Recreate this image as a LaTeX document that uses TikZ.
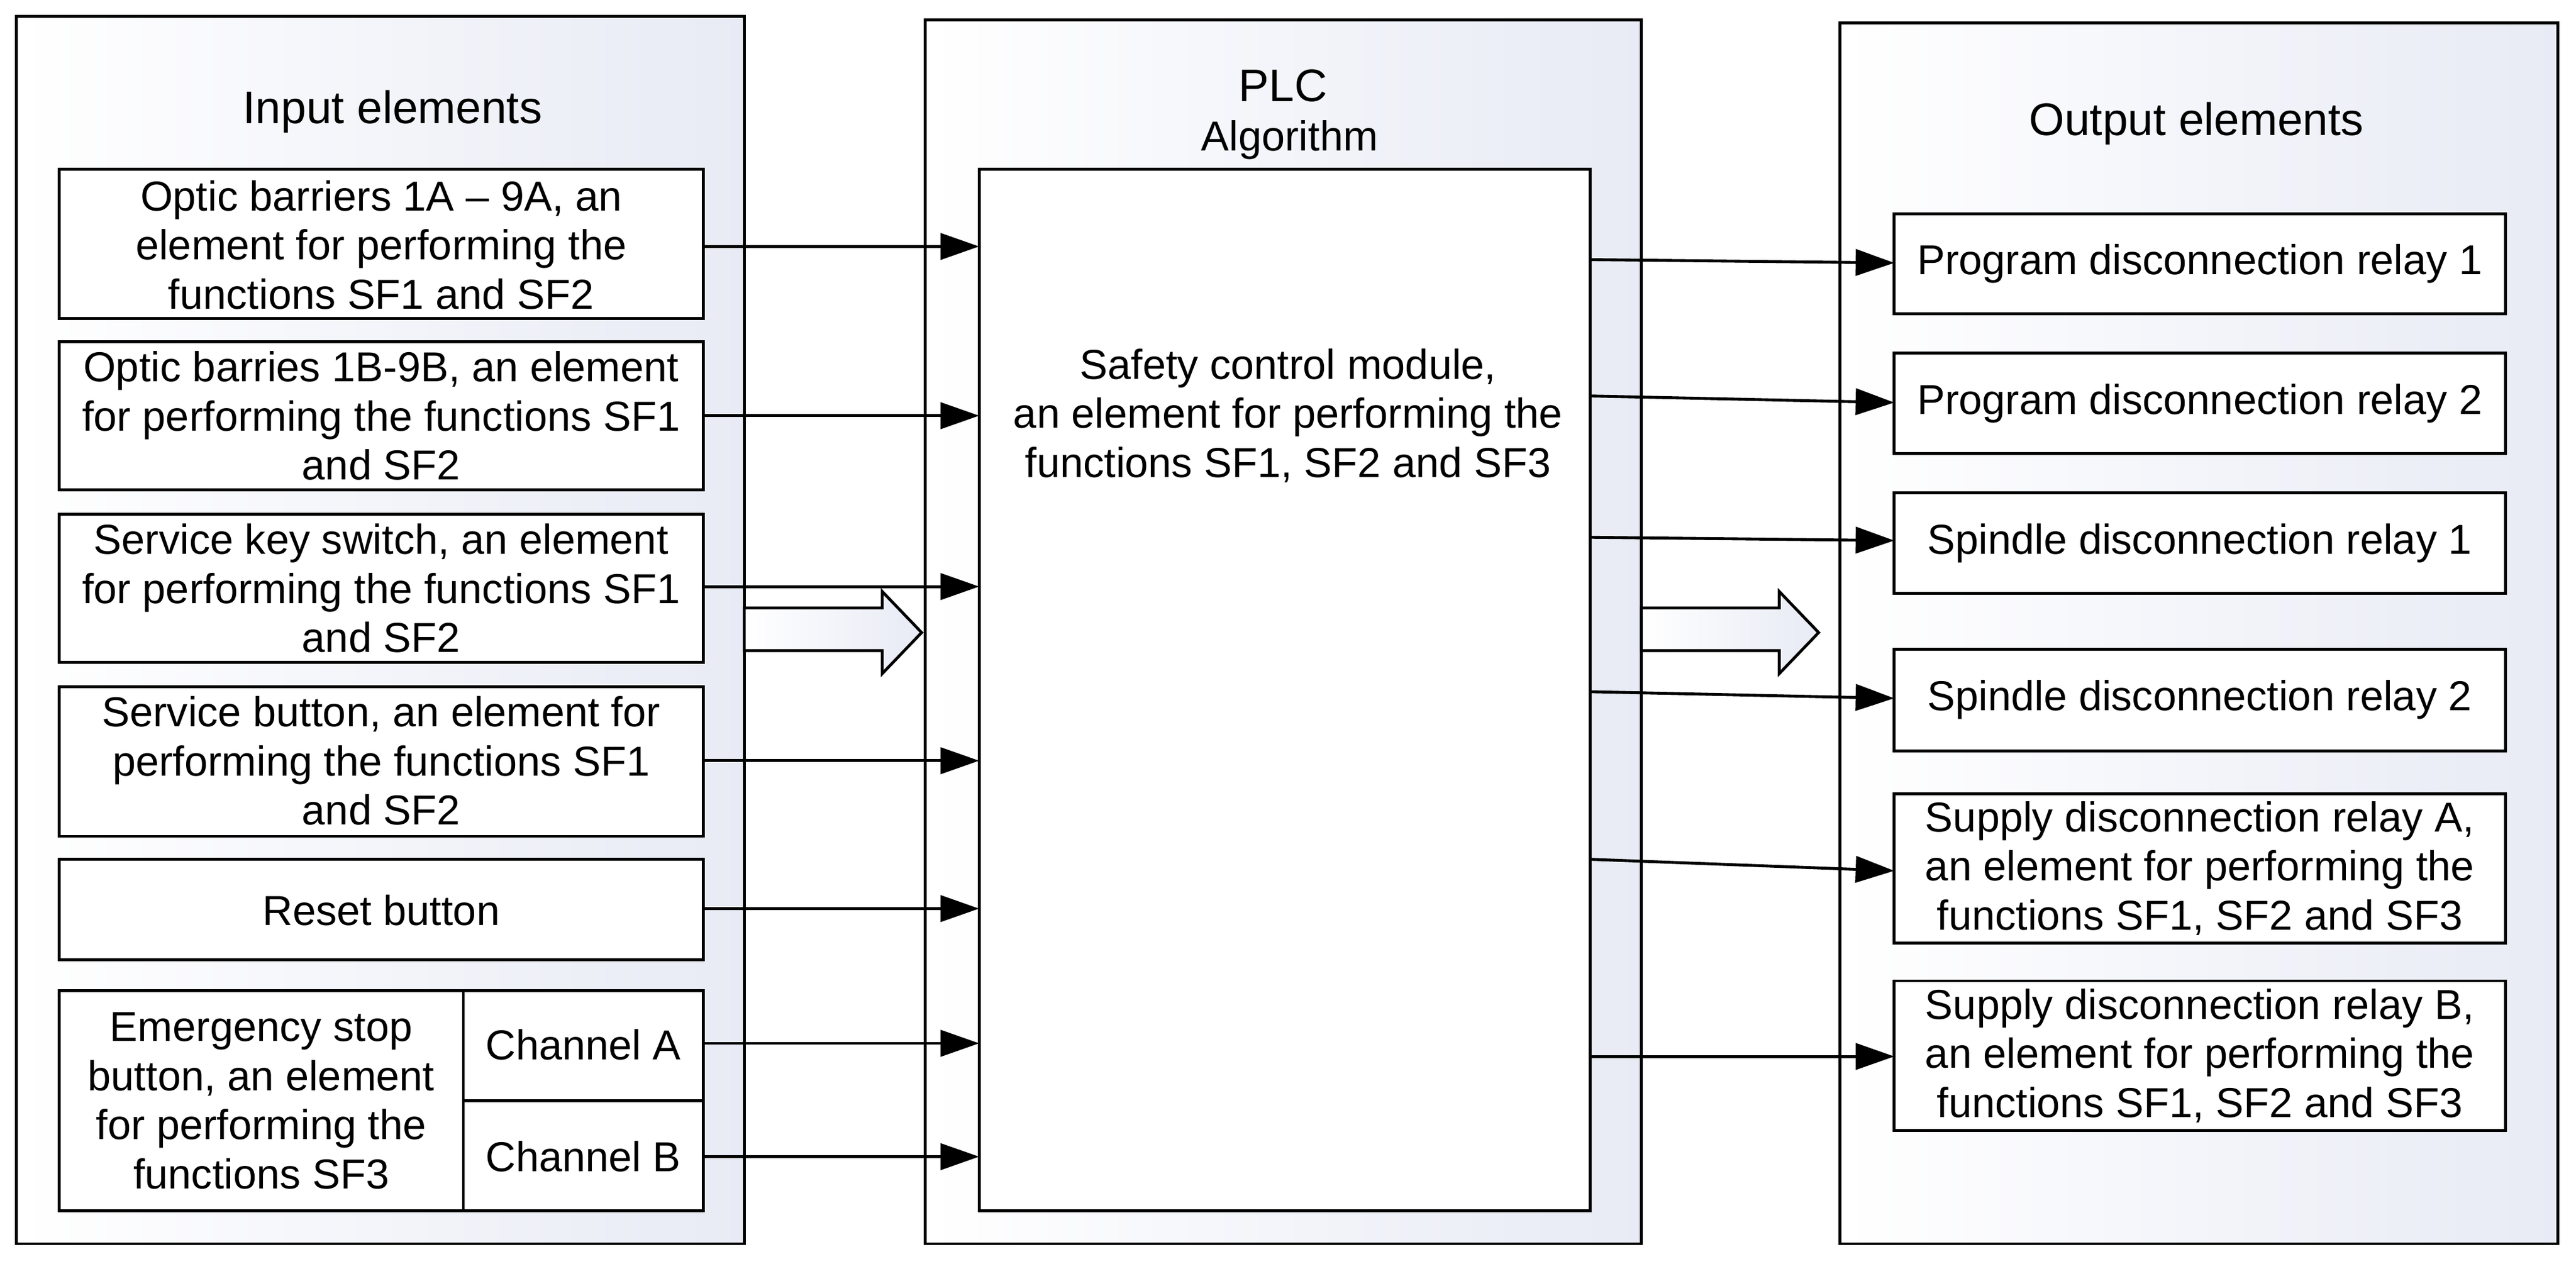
\documentclass[tikz,border=0pt]{standalone}
\usepackage{fontspec}
\setmainfont{Liberation Sans}
\usetikzlibrary{arrows.meta}
\begin{document}
\definecolor{pan}{rgb}{0.91,0.92,0.96}
\begin{tikzpicture}[x=0.02cm,y=-0.02cm,line width=1pt,
  font=\fontsize{14.5}{17}\selectfont,
  panel/.style={draw,left color=white,right color=pan},
  box/.style={draw,fill=white},
  arr/.style={-{Triangle[length=0.47cm,width=0.32cm]}},
  txt/.style={align=center,inner sep=0pt},
  ttl/.style={txt,font=\fontsize{15.8}{19}\selectfont}]
\useasboundingbox (0,0) rectangle (1568,769);
% panels
\path[panel] (10,10) rectangle (453,757);
\path[panel] (563,12) rectangle (999,757);
\path[panel] (1120,14) rectangle (1557,757);
\node[ttl] (tin) at (239,68) {Input elements};
\node[ttl] (tout) at (1337,75) {Output elements};
\node[ttl] (tplc) at (781,52) {PLC};
\node[txt,font=\fontsize{14.5}{17}\selectfont] (talg) at (785,85) {Algorithm};
% PLC box
\draw[box] (596,103) rectangle (968,737);
\node[txt] (plc) at (784,253) {Safety control module,\\an element for performing the\\functions SF1, SF2 and SF3};
% left boxes
\draw[box] (36,103) rectangle (428,194);
\node[txt] (i1) at (232,149) {Optic barriers 1A -- 9A, an\\element for performing the\\functions SF1 and SF2};
\draw[box] (36,208) rectangle (428,298);
\node[txt] (i2) at (232,253) {Optic barries 1B-9B, an element\\for performing the functions SF1\\and SF2};
\draw[box] (36,313) rectangle (428,403);
\node[txt] (i3) at (232,358) {Service key switch, an element\\for performing the functions SF1\\and SF2};
\draw[box] (36,418) rectangle (428,509);
\node[txt] (i4) at (232,463) {Service button, an element for\\performing the functions SF1\\and SF2};
\draw[box] (36,523) rectangle (428,584);
\node[txt] (i5) at (232,554) {Reset button};
\draw[box] (36,603) rectangle (428,737);
\draw (282,603) -- (282,737) (282,670) -- (428,670);
\node[txt] (i6) at (159,670) {Emergency stop\\button, an element\\for performing the\\functions SF3};
\node[txt] (ca) at (355,636) {Channel A};
\node[txt] (cb) at (355,704) {Channel B};
\foreach \y in {150,253,357,463,553,635,704}
  \draw[arr] (428,\y) -- (596,\y);
% right boxes
\foreach \a/\b/\t [count=\i] in {130/191/{Program disconnection relay 1},215/276/{Program disconnection relay 2},300/361/{Spindle disconnection relay 1},395/457/{Spindle disconnection relay 2},483/574/{Supply disconnection relay A,\\an element for performing the\\functions SF1, SF2 and SF3},597/688/{Supply disconnection relay B,\\an element for performing the\\functions SF1, SF2 and SF3}}{
  \draw[box] (1153,\a) rectangle (1525,\b);
  \node[txt] (o\i) at (1339,{(\a+\b)/2}) {\t};
}
\foreach \y/\z in {158/160,241/245,327/329,421/425,523/530,643/643}
  \draw[arr] (968,\y) -- (1153,\z);
% hollow arrows
\foreach \x in {453,999}
  \draw[left color=white,right color=pan] (\x,370) -- (\x+84,370) -- (\x+84,360) -- (\x+108,385) -- (\x+84,410) -- (\x+84,396) -- (\x,396) -- cycle;
\end{tikzpicture}
\end{document}
